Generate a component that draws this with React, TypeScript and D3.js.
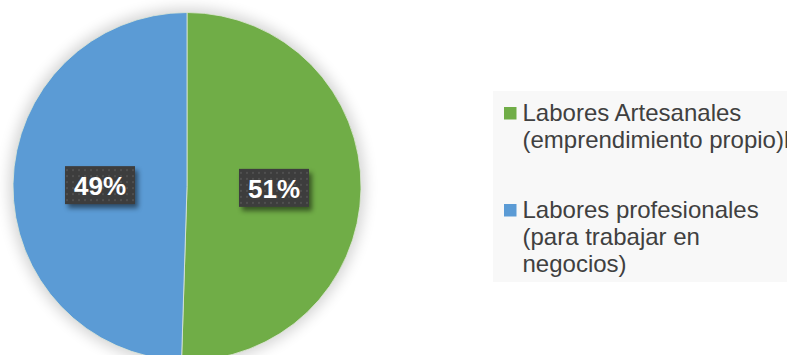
import React from "react";
import * as d3 from "d3";

const categories = ["Labores Artesanales (emprendimiento propio)", "Labores profesionales (para trabajar en negocios)"];
const values = [50.5, 49.5];
const labelTexts = ["51%", "49%"];
const colors = ["#70AD47", "#5B9BD5"];
const legendLines = [
  ["Labores Artesanales", "(emprendimiento propio)l"],
  ["Labores profesionales", "(para trabajar en", "negocios)"],
];

const W = 787;
const H = 355;
const cx = 187;
const cy = 186.5;
const R = 174;

export default function App() {
  const pie = d3.pie<number>().sort(null).startAngle(0).endAngle(2 * Math.PI);
  const arcs = pie(values);
  const arc = d3.arc<d3.PieArcDatum<number>>().innerRadius(0).outerRadius(R);
  const labelArc = d3.arc<d3.PieArcDatum<number>>().innerRadius(R * 0.5).outerRadius(R * 0.5);
  const font = "'Liberation Sans', Arial, sans-serif";
  const legendY = d3.scaleOrdinal<number, number>().domain([0, 1]).range([107, 204]);
  const lineH = 27;

  return (
    <svg width={W} height={H} style={{ position: "absolute", left: 0, top: 0, background: "#ffffff" }}>
      <defs>
        <filter id="pieShadow" x="-20%" y="-20%" width="140%" height="140%">
          <feGaussianBlur stdDeviation="7" />
        </filter>
        <filter id="boxShadow" x="-30%" y="-40%" width="160%" height="180%">
          <feGaussianBlur stdDeviation="2.5" />
        </filter>
        <pattern id="dots" width="6" height="6" patternUnits="userSpaceOnUse">
          <rect width="6" height="6" fill="#3d3d3d" />
          <rect x="2" y="2" width="2" height="2" fill="#4f4f4f" />
        </pattern>
      </defs>
      <rect x={0} y={0} width={W} height={H} fill="#ffffff" />
      <circle cx={cx} cy={cy} r={R + 4} fill="#000" opacity={0.17} filter="url(#pieShadow)" />
      <g transform={`translate(${cx},${cy})`}>
        {arcs.map((a, i) => (
          <path key={i} d={arc(a) || ""} fill={colors[i]} stroke="#dfe8d8" strokeWidth={0.8} />
        ))}
        {arcs.map((a, i) => {
          const [lx, ly] = labelArc.centroid(a);
          const bw = 70;
          const bh = 38;
          return (
            <g key={"l" + i} transform={`translate(${lx},${ly})`}>
              <rect x={-bw / 2 + 3} y={-bh / 2 + 4} width={bw} height={bh} fill="#000" opacity={0.5} filter="url(#boxShadow)" />
              <rect x={-bw / 2} y={-bh / 2} width={bw} height={bh} fill="url(#dots)" />
              <text x={0} y={10} textAnchor="middle" fill="#ffffff" fontFamily={font} fontWeight="bold" fontSize={26}>
                {labelTexts[i]}
              </text>
            </g>
          );
        })}
      </g>
      <rect x={493} y={91} width={W - 493} height={191} fill="#f8f8f8" />
      {categories.map((c, i) => (
        <g key={c}>
          <rect x={504} y={legendY(i)} width={12.5} height={12.5} fill={colors[i]} />
          {legendLines[i].map((ln, j) => (
            <text key={j} x={522.5} y={legendY(i) + 14 + j * lineH} fill="#404040" fontFamily={font} fontSize={24}>
              {ln}
            </text>
          ))}
        </g>
      ))}
    </svg>
  );
}
